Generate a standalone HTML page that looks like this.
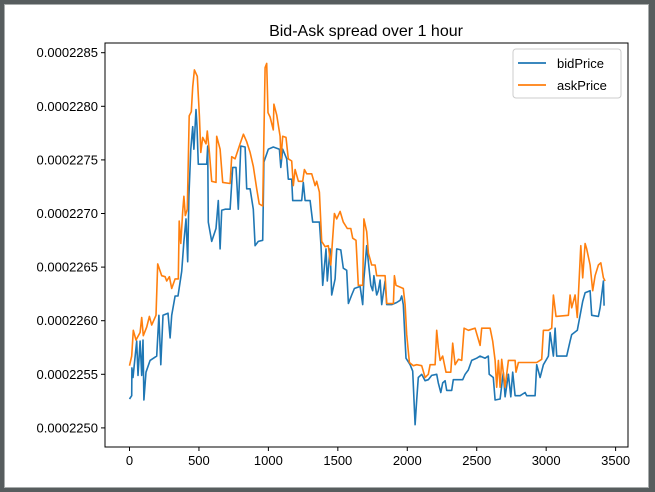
<!DOCTYPE html>
<html><head><meta charset="utf-8"><style>
body{margin:0;width:655px;height:492px;background:#575d5e;overflow:hidden;font-family:"Liberation Sans","DejaVu Sans",sans-serif}
#frame{position:absolute;left:4px;top:4px;width:643px;height:482px;background:#fff;border:1px solid #a8acac}
svg{position:absolute;left:0;top:0}
</style></head><body>
<div id="frame"></div>
<svg id="chart" width="655" height="492"></svg>
<script>
const bidIdx=[0,16,17,25,52,61,76,88,97,104,119,148,196,212,225,241,277,292,304,328,349,376,392,407,419,428,441,455,464,479,486,495,556,563,567,592,623,639,652,664,688,724,743,767,783,801,832,844,868,891,904,927,959,968,999,1035,1079,1089,1103,1132,1143,1168,1175,1240,1251,1264,1300,1319,1367,1379,1391,1415,1424,1444,1456,1480,1492,1521,1539,1564,1576,1600,1619,1660,1679,1688,1708,1737,1751,1760,1780,1791,1804,1816,1840,1852,1888,1924,1948,1960,1971,1984,1991,2020,2039,2056,2068,2079,2104,2128,2151,2176,2212,2223,2241,2255,2272,2284,2320,2331,2399,2416,2439,2464,2500,2524,2560,2583,2590,2619,2632,2668,2691,2704,2728,2745,2759,2776,2812,2848,2860,2920,2932,2956,2980,3016,3028,3052,3064,3076,3148,3172,3184,3224,3244,3263,3280,3316,3328,3376,3388,3412,3417];
const bidPrice=[2252.7e-7,2253.0e-7,2255.6e-7,2254.7e-7,2258.1e-7,2254.9e-7,2258.1e-7,2254.9e-7,2258.2e-7,2252.6e-7,2255.2e-7,2256.3e-7,2256.7e-7,2260.5e-7,2255.9e-7,2260.5e-7,2260.7e-7,2258.4e-7,2260.5e-7,2262.3e-7,2262.3e-7,2264.6e-7,2267.4e-7,2269.5e-7,2265.5e-7,2271.6e-7,2276.0e-7,2278.1e-7,2276.0e-7,2279.7e-7,2278.1e-7,2274.6e-7,2274.6e-7,2276.3e-7,2269.2e-7,2267.4e-7,2268.6e-7,2271.2e-7,2266.7e-7,2270.3e-7,2270.4e-7,2270.4e-7,2274.3e-7,2274.3e-7,2270.4e-7,2276.3e-7,2276.2e-7,2272.3e-7,2272.3e-7,2270.4e-7,2267.0e-7,2267.4e-7,2267.5e-7,2274.8e-7,2276.0e-7,2276.2e-7,2276.0e-7,2274.3e-7,2276.0e-7,2275.1e-7,2273.2e-7,2273.2e-7,2271.2e-7,2271.2e-7,2272.9e-7,2271.2e-7,2271.2e-7,2269.2e-7,2269.2e-7,2267.0e-7,2263.3e-7,2266.7e-7,2263.7e-7,2266.7e-7,2262.4e-7,2263.9e-7,2266.7e-7,2266.6e-7,2264.9e-7,2264.7e-7,2261.6e-7,2262.4e-7,2263.0e-7,2263.2e-7,2261.5e-7,2263.9e-7,2267.0e-7,2263.3e-7,2262.8e-7,2264.2e-7,2262.4e-7,2262.8e-7,2263.8e-7,2261.5e-7,2263.7e-7,2261.5e-7,2261.5e-7,2261.7e-7,2261.9e-7,2262.3e-7,2261.5e-7,2258.1e-7,2256.5e-7,2255.9e-7,2255.3e-7,2250.3e-7,2252.6e-7,2254.7e-7,2255.0e-7,2254.4e-7,2254.5e-7,2254.9e-7,2255.0e-7,2254.2e-7,2253.3e-7,2254.2e-7,2254.4e-7,2253.5e-7,2253.5e-7,2254.5e-7,2254.5e-7,2255.0e-7,2255.4e-7,2256.3e-7,2256.5e-7,2256.7e-7,2256.5e-7,2256.7e-7,2255.0e-7,2254.7e-7,2252.6e-7,2252.7e-7,2255.2e-7,2252.9e-7,2255.0e-7,2252.9e-7,2255.2e-7,2253.0e-7,2253.0e-7,2253.3e-7,2253.0e-7,2253.0e-7,2255.9e-7,2254.7e-7,2255.9e-7,2256.7e-7,2258.9e-7,2256.7e-7,2259.3e-7,2256.7e-7,2256.7e-7,2258.1e-7,2258.7e-7,2259.1e-7,2260.5e-7,2261.8e-7,2262.6e-7,2262.8e-7,2260.5e-7,2260.4e-7,2261.2e-7,2263.7e-7,2261.4e-7];
const askIdx=[0,16,27,47,76,88,99,124,143,160,191,203,232,256,268,287,304,328,351,358,369,383,392,402,416,430,445,455,467,488,503,513,527,551,560,575,592,623,628,652,671,724,736,760,796,820,844,868,891,916,934,959,968,976,988,997,1012,1035,1040,1060,1084,1091,1103,1127,1143,1168,1179,1192,1216,1247,1259,1276,1312,1328,1336,1348,1367,1384,1408,1431,1449,1475,1492,1516,1539,1568,1593,1607,1631,1647,1679,1688,1708,1720,1744,1768,1780,1840,1852,1900,1907,1919,1971,1984,1996,2015,2044,2068,2104,2128,2151,2164,2200,2212,2223,2236,2255,2279,2313,2327,2344,2368,2392,2409,2440,2488,2524,2536,2583,2596,2615,2632,2644,2656,2668,2680,2704,2728,2776,2783,2800,2932,2968,2980,3016,3040,3052,3071,3160,3172,3184,3208,3224,3249,3263,3280,3292,3316,3335,3352,3376,3393,3412,3424];
const askPrice=[2255.8e-7,2256.7e-7,2259.1e-7,2258.2e-7,2258.9e-7,2260.3e-7,2258.6e-7,2259.4e-7,2260.4e-7,2259.6e-7,2260.5e-7,2265.3e-7,2264.2e-7,2264.1e-7,2263.7e-7,2264.1e-7,2263.0e-7,2263.9e-7,2263.9e-7,2269.3e-7,2267.2e-7,2270.2e-7,2271.6e-7,2269.8e-7,2270.4e-7,2279.1e-7,2279.5e-7,2281.8e-7,2283.4e-7,2282.8e-7,2279.1e-7,2275.7e-7,2277.1e-7,2276.5e-7,2277.7e-7,2275.7e-7,2273.0e-7,2272.9e-7,2277.2e-7,2276.0e-7,2272.9e-7,2272.8e-7,2275.3e-7,2275.1e-7,2276.5e-7,2277.4e-7,2276.7e-7,2275.7e-7,2274.4e-7,2272.3e-7,2270.9e-7,2270.7e-7,2277.2e-7,2283.6e-7,2284.0e-7,2279.4e-7,2279.0e-7,2277.8e-7,2280.2e-7,2279.2e-7,2277.2e-7,2275.1e-7,2277.2e-7,2277.1e-7,2275.1e-7,2274.9e-7,2272.6e-7,2274.1e-7,2273.0e-7,2273.0e-7,2274.1e-7,2273.7e-7,2273.7e-7,2273.0e-7,2272.6e-7,2273.0e-7,2272.0e-7,2267.4e-7,2266.9e-7,2267.0e-7,2265.2e-7,2270.0e-7,2269.5e-7,2270.2e-7,2269.2e-7,2268.6e-7,2268.6e-7,2267.7e-7,2267.5e-7,2263.3e-7,2263.3e-7,2269.5e-7,2268.3e-7,2266.3e-7,2265.2e-7,2265.2e-7,2264.2e-7,2264.2e-7,2261.6e-7,2261.6e-7,2264.2e-7,2263.3e-7,2263.0e-7,2261.5e-7,2258.7e-7,2256.1e-7,2255.8e-7,2255.9e-7,2255.8e-7,2254.7e-7,2255.0e-7,2255.9e-7,2255.9e-7,2259.1e-7,2257.5e-7,2256.3e-7,2256.7e-7,2255.2e-7,2255.2e-7,2257.9e-7,2255.9e-7,2256.4e-7,2256.3e-7,2259.3e-7,2259.1e-7,2259.3e-7,2257.7e-7,2259.3e-7,2259.3e-7,2259.3e-7,2258.1e-7,2256.3e-7,2253.8e-7,2256.3e-7,2253.8e-7,2256.4e-7,2253.8e-7,2256.3e-7,2256.3e-7,2255.2e-7,2256.1e-7,2256.1e-7,2256.4e-7,2259.1e-7,2259.1e-7,2259.3e-7,2262.4e-7,2260.4e-7,2260.5e-7,2262.4e-7,2261.2e-7,2262.4e-7,2260.3e-7,2267.0e-7,2264.0e-7,2267.2e-7,2266.7e-7,2265.2e-7,2262.8e-7,2264.2e-7,2265.2e-7,2265.4e-7,2264.0e-7,2263.7e-7];
const xTicks=[0,500,1000,1500,2000,2500,3000,3500];
const yTicks=[2250e-7,2255e-7,2260e-7,2265e-7,2270e-7,2275e-7,2280e-7,2285e-7];
const yTickLabels=["0.0002250","0.0002255","0.0002260","0.0002265","0.0002270","0.0002275","0.0002280","0.0002285"];
const seriesNames=["bidPrice","askPrice"];

const NS="http://www.w3.org/2000/svg";
const svg=document.getElementById('chart');
const L=105,R=628,T=43,B=447;
function xs(i){return 129.5+i/7.2;}
function ys(p){return 52.7+(2285-p*1e7)*10.72;}
function mk(tag,attrs,parent){const e=document.createElementNS(NS,tag);for(const k in attrs)e.setAttribute(k,attrs[k]);(parent||svg).appendChild(e);return e;}

const clip=mk('clipPath',{id:'clipA'});mk('rect',{x:L,y:T,width:R-L,height:B-T},clip);

function drawLine(idx,vals,color,name){
  let d='';for(let i=0;i<idx.length;i++){d+=(i?'L':'M')+xs(idx[i]).toFixed(1)+' '+ys(vals[i]).toFixed(1);}
  const p=mk('path',{d:d,fill:'none',stroke:color,'stroke-width':1.6,'stroke-linejoin':'round','clip-path':'url(#clipA)'});
  
  
}
drawLine(bidIdx,bidPrice,'#1f77b4','bidprice-line');
drawLine(askIdx,askPrice,'#ff7f0e','askprice-line');

const ax=mk('rect',{x:L,y:T,width:R-L,height:B-T,fill:'none',stroke:'#000','stroke-width':1});



xTicks.forEach(v=>{
  const x=xs(v);
  mk('line',{x1:x,x2:x,y1:B,y2:B+4,stroke:'#000'});
  const t=mk('text',{x:x,y:B+18,'text-anchor':'middle','font-size':13});
  t.textContent=v;
  
  
});
yTicks.forEach((v,i)=>{
  const y=ys(v);
  mk('line',{x1:L-4,x2:L,y1:y,y2:y,stroke:'#000'});
  const t=mk('text',{x:L-7,y:y+4.5,'text-anchor':'end','font-size':13});
  t.textContent=yTickLabels[i];
  
  
});

const title=mk('text',{x:366,y:36,'text-anchor':'middle','font-size':16});
title.textContent='Bid-Ask spread over 1 hour';



const lg=mk('g',{});


mk('rect',{x:513,y:49,width:108,height:49,rx:3,fill:'#fff','fill-opacity':0.8,stroke:'#ccc'},lg);
const colors=['#1f77b4','#ff7f0e'];
seriesNames.forEach((n,i)=>{
  const y=63+i*22;
  const g=mk('g',{},lg);
  
  
  mk('line',{x1:518,x2:546,y1:y,y2:y,stroke:colors[i],'stroke-width':1.8},g);
  const t=mk('text',{x:557,y:y+5,'font-size':13},g);t.textContent=n;
});
</script>
</body></html>
